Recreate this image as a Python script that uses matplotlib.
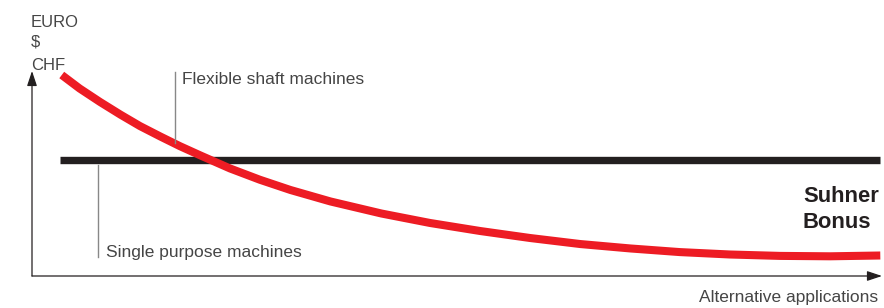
import matplotlib
matplotlib.use("Agg")
import matplotlib.pyplot as plt

plt.rcParams['font.family'] = ['Liberation Sans', 'DejaVu Sans']

# Alternative applications (abstract units 0..100) vs cost (abstract units 0..100)
flex_x = [3.5, 5.6, 8.0, 10.4, 12.7, 15.1, 17.4, 19.8, 23.3, 26.8, 30.4, 35.1, 41.1,
          46.8, 52.7, 58.6, 64.5, 70.4, 76.2, 82.1, 88.0, 93.9, 99.8]
flex_y = [100, 93.3, 86.6, 80.3, 74.6, 69.4, 64.6, 60.0, 53.5, 47.9, 42.8, 37.1, 31.1,
          26.4, 22.4, 18.9, 15.9, 13.7, 11.9, 10.7, 10.0, 9.8, 10.2]
single_x = [3.3, 99.8]
single_y = [57.7, 57.7]

W, H = 884, 308
fig = plt.figure(figsize=(W / 100, H / 100), dpi=100)
ax = fig.add_axes([32 / W, (H - 276) / H, 850 / W, 201 / H])
ax.set_xlim(0, 100)
ax.set_ylim(0, 100)
ax.axis('off')

ax.plot(single_x, single_y, color='#231f20', lw=5.3, solid_capstyle='butt', clip_on=False, zorder=2)
ax.plot(flex_x, flex_y, color='#ed1c24', lw=5.8, solid_capstyle='butt', solid_joinstyle='round',
        clip_on=False, zorder=3)

ax.annotate('', xy=(1.0, 0), xytext=(0, 0), xycoords='axes fraction',
            arrowprops=dict(arrowstyle='-|>,head_length=0.9,head_width=0.3', color='#231f20',
                            lw=0.9, shrinkA=0, shrinkB=0))
ax.annotate('', xy=(0, 1.02), xytext=(0, 0), xycoords='axes fraction',
            arrowprops=dict(arrowstyle='-|>,head_length=0.9,head_width=0.3', color='#231f20',
                            lw=0.9, shrinkA=0, shrinkB=0))

txt = '#454545'
fs = 12.5
def px(x, y):
    return (x / W, 1 - y / H)

for label, y in [('EURO', 27), ('$', 47), ('CHF', 70)]:
    fig.text(*px(31, y), label, color=txt, fontsize=12, va='baseline', ha='left')

# leader lines
fig.add_artist(plt.Line2D([175 / W, 175 / W], [1 - 72 / H, 1 - 143 / H], color='#888888', lw=1))
fig.text(*px(182, 84), 'Flexible shaft machines', color=txt, fontsize=fs, va='baseline', ha='left')

fig.add_artist(plt.Line2D([98 / W, 98 / W], [1 - 165 / H, 1 - 257 / H], color='#888888', lw=1))
fig.text(*px(106, 257), 'Single purpose machines', color=txt, fontsize=fs, va='baseline', ha='left')

fig.text(*px(803, 202), 'Suhner', color='#231f20', fontsize=15.8, fontweight='bold', va='baseline', ha='left')
fig.text(*px(803, 228), 'Bonus', color='#231f20', fontsize=15.8, fontweight='bold', va='baseline', ha='left')

fig.text(*px(878, 302), 'Alternative applications', color=txt, fontsize=fs, va='baseline', ha='right')

fig.savefig('out.png', dpi=100, facecolor='white')
